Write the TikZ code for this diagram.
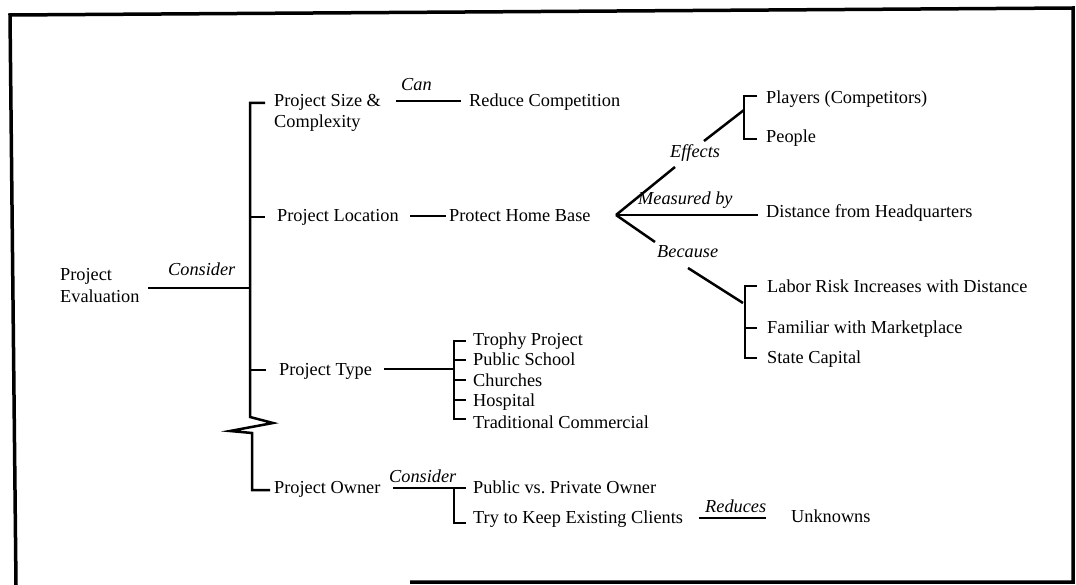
\documentclass[tikz,border=0pt]{standalone}
\usepackage{fontspec}
\setmainfont{Liberation Serif}
\frenchspacing
\begin{document}
\begin{tikzpicture}[x=1pt,y=-1pt,
  txt/.style={anchor=base west,inner sep=0pt,font=\fontsize{18.3}{21}\selectfont,align=left},
  lbl/.style={anchor=base west,inner sep=0pt,font=\fontsize{18.3}{21}\selectfont\itshape},
  link/.style={line width=2.5pt,line cap=butt,line join=miter},
  frame/.style={line width=3.5pt}]
\useasboundingbox (0,0) rectangle (1076,585);
% frame
\draw[frame] (410,582) -- (1073,582) -- (1073,8) -- (10,15) -- (16,585);
% text nodes
\node[txt] (eval) at (60,302) {Project\\Evaluation};
\node[lbl] (cons1) at (168,276) {Consider};
\node[txt] (size) at (274,128) {Project Size \&\\Complexity};
\node[lbl] (can) at (401,91) {Can};
\node[txt] (reduce) at (469,107) {Reduce Competition};
\node[txt] (loc) at (277,222) {Project Location};
\node[txt] (home) at (449,222) {Protect Home Base};
\node[lbl] (effects) at (670,158) {Effects};
\node[txt] (players) at (766,104) {Players (Competitors)};
\node[txt] (people) at (766,143) {People};
\node[lbl] (measured) at (638,205) {Measured by};
\node[txt] (distance) at (766,218) {Distance from Headquarters};
\node[lbl] (because) at (657,258) {Because};
\node[txt] (labor) at (767,293) {Labor Risk Increases with Distance};
\node[txt] (familiar) at (767,333) {Familiar with Marketplace};
\node[txt] (state) at (767,363) {State Capital};
\node[txt] (type) at (279,375) {Project Type};
\node[txt] (trophy) at (473,345) {Trophy Project};
\node[txt] (school) at (473,365) {Public School};
\node[txt] (churches) at (473,386) {Churches};
\node[txt] (hospital) at (473,406) {Hospital};
\node[txt] (trad) at (473,428) {Traditional Commercial};
\node[txt] (owner) at (274,493) {Project Owner};
\node[lbl] (cons2) at (389,482) {Consider};
\node[txt] (public) at (473,493) {Public vs.\ Private Owner};
\node[txt] (keep) at (473,523) {Try to Keep Existing Clients};
\node[lbl] (reduces) at (705,512) {Reduces};
\node[txt] (unknowns) at (791,522) {Unknowns};
% junction coordinates
\coordinate (e1) at (148,288);
\coordinate (e2) at (250,288);
\coordinate (fork) at (616,215);
% main trunk
\draw[link] (e1) -- (e2);
\draw[link] (265,103) -- (250,103) -- (250,417) -- (273,423) -- (230,431) -- (252,433) -- (252,490) -- (270,490);
\draw[link] (250,217) -- (265,217);
\draw[link] (250,370) -- (266,370);
% size branch
\draw[link] (396,101) -- (461,101);
% location branch
\draw[link] (410,216) -- (446,216);
\draw[link] (fork) -- (675,167);
\draw[link] (704,141) -- (744,110);
\draw[link] (757,96) -- (744,96) -- (744,139) -- (757,139);
\draw[link] (fork) -- (758,215);
\draw[link] (fork) -- (655,242);
\draw[link] (688,268) -- (743,303);
\draw[link] (757,286) -- (745,286) -- (745,358) -- (757,358);
\draw[link] (745,328) -- (757,328);
% type branch
\draw[link] (384,369) -- (454,369);
\draw[link] (466,341) -- (454,341) -- (454,419) -- (466,419);
\foreach \yy in {360,380,400} \draw[link] (454,\yy) -- (466,\yy);
% owner branch
\draw[link] (393,488) -- (466,488);
\draw[link] (454,488) -- (454,523) -- (466,523);
\draw[link] (699,518) -- (766,518);
\end{tikzpicture}
\end{document}
